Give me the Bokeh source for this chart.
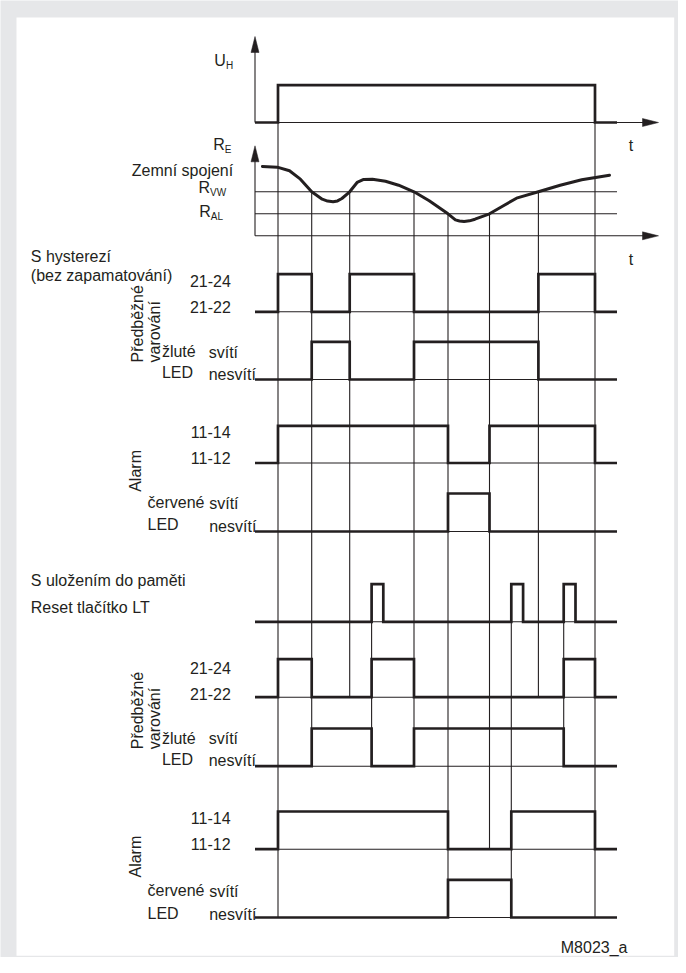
import math
from bokeh.plotting import figure
from bokeh.models import Range1d
from bokeh.core.properties import value
from bokeh.embed import file_html
from bokeh.resources import INLINE

# ---------------- data (time units; 0 = start of the time axis) ----------------
T_POWER_ON = 23.0
T_POWER_OFF = 340.0
T_VW_DOWN_1 = 56.7     # R_E falls below R_VW
T_VW_UP_1 = 94.7       # R_E rises above R_VW
T_VW_DOWN_2 = 159.0
T_AL_DOWN = 193.0      # R_E falls below R_AL
T_AL_UP = 234.5        # R_E rises above R_AL
T_VW_UP_2 = 283.4
RESET_START = [116.6, 256.3, 308.7]
RESET_END = [128.3, 268.1, 320.5]
T_END = 362.0
T_AXIS_END = 403.5

# earth-fault resistance R_E over time (arbitrary units)
curve_t = [7.4, 22.2, 34.5, 45.4, 56.7, 67.2, 72.5, 78.1, 82.5, 86.9, 94.7, 102.1, 108.7, 117.4,
           130.5, 143.6, 159.0, 174.2, 193.0, 200.4, 204.5, 209.1, 214.5, 220.0, 234.5, 248.4,
           261.5, 283.4, 305.2, 326.7, 354.5]
curve_r = [6.30, 6.24, 5.91, 5.15, 4.00, 3.33, 3.16, 3.09, 3.17, 3.39, 4.00, 4.85, 5.12, 5.15,
           4.96, 4.60, 4.00, 3.18, 2.00, 1.45, 1.35, 1.30, 1.36, 1.51, 2.00, 2.73,
           3.42, 4.00, 4.60, 5.09, 5.51]
R_VW = 4.0
R_AL = 2.0

# signal "high" intervals
uh_on = [(T_POWER_ON, T_POWER_OFF)]
hyst_warn_relay = [(T_POWER_ON, T_VW_DOWN_1), (T_VW_UP_1, T_VW_DOWN_2), (T_VW_UP_2, T_POWER_OFF)]
hyst_warn_led = [(T_VW_DOWN_1, T_VW_UP_1), (T_VW_DOWN_2, T_VW_UP_2)]
hyst_alarm_relay = [(T_POWER_ON, T_AL_DOWN), (T_AL_UP, T_POWER_OFF)]
hyst_alarm_led = [(T_AL_DOWN, T_AL_UP)]
reset_button = list(zip(RESET_START, RESET_END))
mem_warn_relay = [(T_POWER_ON, T_VW_DOWN_1), (RESET_START[0], T_VW_DOWN_2), (RESET_START[2], T_POWER_OFF)]
mem_warn_led = [(T_VW_DOWN_1, RESET_START[0]), (T_VW_DOWN_2, RESET_START[2])]
mem_alarm_relay = [(T_POWER_ON, T_AL_DOWN), (RESET_START[1], T_POWER_OFF)]
mem_alarm_led = [(T_AL_DOWN, RESET_START[1])]

# ---------------- layout (page pixels) ----------------
W, H = 678, 957
PX0, PY0 = 8, 8
X0 = 262.5                 # page x of time 0
R_BASE_Y = 243.3           # page y of R = 0 (second time axis)
R_PX = 11.0                # pixels per resistance unit
INK = "#231f20"
GRAY = "#e6e7e9"
FONT = value("Liberation Sans")
THICK, THIN = 2.7, 1.1

LEVELS = {   # name: (high y, low y)
    "uh": (92.7, 130.0),
    "hw_rel": (281.7, 319.3),
    "hw_led": (349.3, 387.0),
    "ha_rel": (433.3, 470.5),
    "ha_led": (501.0, 539.0),
    "reset": (591.7, 629.3),
    "mw_rel": (666.7, 704.7),
    "mw_led": (736.0, 773.7),
    "ma_rel": (819.0, 856.7),
    "ma_led": (887.3, 925.0),
}
SIGNALS = [("uh", uh_on), ("hw_rel", hyst_warn_relay), ("hw_led", hyst_warn_led),
           ("ha_rel", hyst_alarm_relay), ("ha_led", hyst_alarm_led), ("reset", reset_button),
           ("mw_rel", mem_warn_relay), ("mw_led", mem_warn_led), ("ma_rel", mem_alarm_relay),
           ("ma_led", mem_alarm_led)]


def res_y(r):
    return R_BASE_Y - r * R_PX


# vertical guide lines: (time, top y, bottom y)
VLINES = [
    (T_POWER_ON, LEVELS["uh"][0], LEVELS["ma_led"][1]),
    (T_POWER_OFF, LEVELS["uh"][0], LEVELS["ma_led"][1]),
    (T_VW_DOWN_1, res_y(R_VW), LEVELS["mw_led"][1]),
    (T_VW_UP_1, res_y(R_VW), LEVELS["mw_rel"][1]),
    (T_VW_DOWN_2, res_y(R_VW), LEVELS["mw_led"][1]),
    (T_AL_DOWN, res_y(R_AL), LEVELS["ma_led"][1]),
    (T_AL_UP, res_y(R_AL), LEVELS["ma_rel"][1]),
    (T_VW_UP_2, res_y(R_VW), LEVELS["mw_rel"][1]),
    (RESET_START[0], LEVELS["reset"][0], LEVELS["mw_led"][1]),
    (RESET_START[1], LEVELS["reset"][0], LEVELS["ma_led"][1]),
    (RESET_START[2], LEVELS["reset"][0], LEVELS["mw_led"][1]),
]

p = figure(width=W, height=H, output_backend="svg", toolbar_location=None,
           x_range=Range1d(PX0, PX0 + W), y_range=Range1d(PY0 + H, PY0),
           x_axis_type=None, y_axis_type=None, min_border=0,
           background_fill_color=GRAY, border_fill_color=GRAY, outline_line_color=None)
p.grid.visible = False
p.extra_x_ranges = {"time": Range1d(PX0 - X0, PX0 + W - X0)}
p.extra_y_ranges = {"res": Range1d((R_BASE_Y - (PY0 + H)) / R_PX, (R_BASE_Y - PY0) / R_PX)}

# white sheet
p.quad(left=[24], right=[681.7], top=[25], bottom=[963.3], fill_color="white", line_color=None)

# thin lines: time axes, thresholds, baselines, vertical guides
p.segment(x0=[0, 0], x1=[T_AXIS_END - 10, T_AXIS_END - 10], y0=[LEVELS["uh"][1], R_BASE_Y],
          y1=[LEVELS["uh"][1], R_BASE_Y], x_range_name="time", line_color=INK, line_width=THIN)
p.segment(x0=[0, 0], x1=[T_END, T_END], y0=[R_VW, R_AL], y1=[R_VW, R_AL],
          x_range_name="time", y_range_name="res", line_color=INK, line_width=THIN)
p.segment(x0=[0, 0], x1=[0, 0], y0=[LEVELS["uh"][1], R_BASE_Y], y1=[44 + 10, 153.3 + 10],
          x_range_name="time", line_color=INK, line_width=THIN)
names = [n for n in LEVELS if n != "uh"]
p.segment(x0=[0] * len(names), x1=[T_END] * len(names), y0=[LEVELS[n][1] for n in names],
          y1=[LEVELS[n][1] for n in names], x_range_name="time", line_color=INK, line_width=THIN)
p.segment(x0=[v[0] for v in VLINES], x1=[v[0] for v in VLINES], y0=[v[1] for v in VLINES],
          y1=[v[2] for v in VLINES], x_range_name="time", line_color=INK, line_width=THIN)

# arrow heads
HL, HW = 16, 4
ax, ay = [], []
for tip in (44.0, 153.3):
    ax.append([0, -HW, HW]); ay.append([tip, tip + HL, tip + HL])
for yy in (LEVELS["uh"][1], R_BASE_Y):
    ax.append([T_AXIS_END, T_AXIS_END - HL, T_AXIS_END - HL]); ay.append([yy, yy - HW, yy + HW])
p.patches(xs=ax, ys=ay, x_range_name="time", fill_color=INK, line_color=INK, line_width=0.5)

# thick signal traces
xs, ys = [], []
for name, intervals in SIGNALS:
    hi, lo = LEVELS[name]
    sx, sy = [0.0], [lo]
    for a, b in intervals:
        sx += [a, a, b, b]
        sy += [lo, hi, hi, lo]
    sx.append(T_END); sy.append(lo)
    xs.append(sx); ys.append(sy)
p.multi_line(xs=xs, ys=ys, x_range_name="time", line_color=INK, line_width=THICK,
             line_join="miter")

# resistance curve
p.line(x=curve_t, y=curve_r, x_range_name="time", y_range_name="res", line_color=INK,
       line_width=3.0, line_join="round", line_cap="round")

# ---------------- texts ----------------
left16 = [
    ("U", 221.7, 68.3), ("R", 220.7, 151.7), ("R", 206.0, 195.0), ("R", 206.7, 219.0),
    ("S hysterezí", 38.3, 264.0), ("(bez zapamatování)", 38.3, 283.0),
    ("21-24", 197.4, 288.3), ("21-22", 197.4, 314.5),
    ("žluté", 169.4, 359.0), ("svítí", 216.2, 359.5), ("LED", 169.4, 380.0), ("nesvítí", 216.2, 381.5),
    ("11-14", 198.3, 439.0), ("11-12", 198.3, 465.7),
    ("červené", 155.0, 510.0), ("svítí", 216.7, 511.0), ("LED", 155.0, 531.7), ("nesvítí", 216.7, 534.0),
    ("S uložením do paměti", 38.3, 587.5), ("Reset tlačítko LT", 38.3, 614.5),
    ("21-24", 197.4, 675.0), ("21-22", 197.4, 701.3),
    ("žluté", 169.4, 745.7), ("svítí", 216.2, 746.0), ("LED", 169.4, 766.7), ("nesvítí", 216.2, 768.0),
    ("11-14", 198.3, 825.4), ("11-12", 198.3, 851.0),
    ("červené", 155.0, 898.0), ("svítí", 216.7, 898.5), ("LED", 155.0, 920.5), ("nesvítí", 216.7, 921.5),
]
sub10 = [("H", 233.5, 72.7), ("E", 232.3, 157.0), ("VW", 217.6, 200.0), ("AL", 218.3, 224.0)]
right16 = [("Zemní spojení", 240.7, 177.7), ("M8023_a", 635.0, 955.0)]
center16 = [("t", 638.5, 153.0), ("t", 638.5, 266.7)]
rot16 = [("Předběžné", 145.0, 370.0), ("varování", 161.7, 370.0), ("Alarm", 143.3, 499.3),
         ("Předběžné", 145.0, 756.7), ("varování", 161.7, 756.7), ("Alarm", 143.3, 885.0)]


def put(items, size, align, angle=0.0):
    p.text(x=[i[1] for i in items], y=[i[2] for i in items], text=[i[0] for i in items],
           text_font=FONT, text_font_size=size, text_color=INK, text_align=align,
           text_baseline="alphabetic", angle=angle)


put(left16, "16px", "left")
put(sub10, "10px", "left")
put(right16, "16px", "right")
put(center16, "16px", "center")
put(rot16, "16px", "left", angle=math.pi / 2)

open("out.html", "w").write(file_html(p, INLINE))
